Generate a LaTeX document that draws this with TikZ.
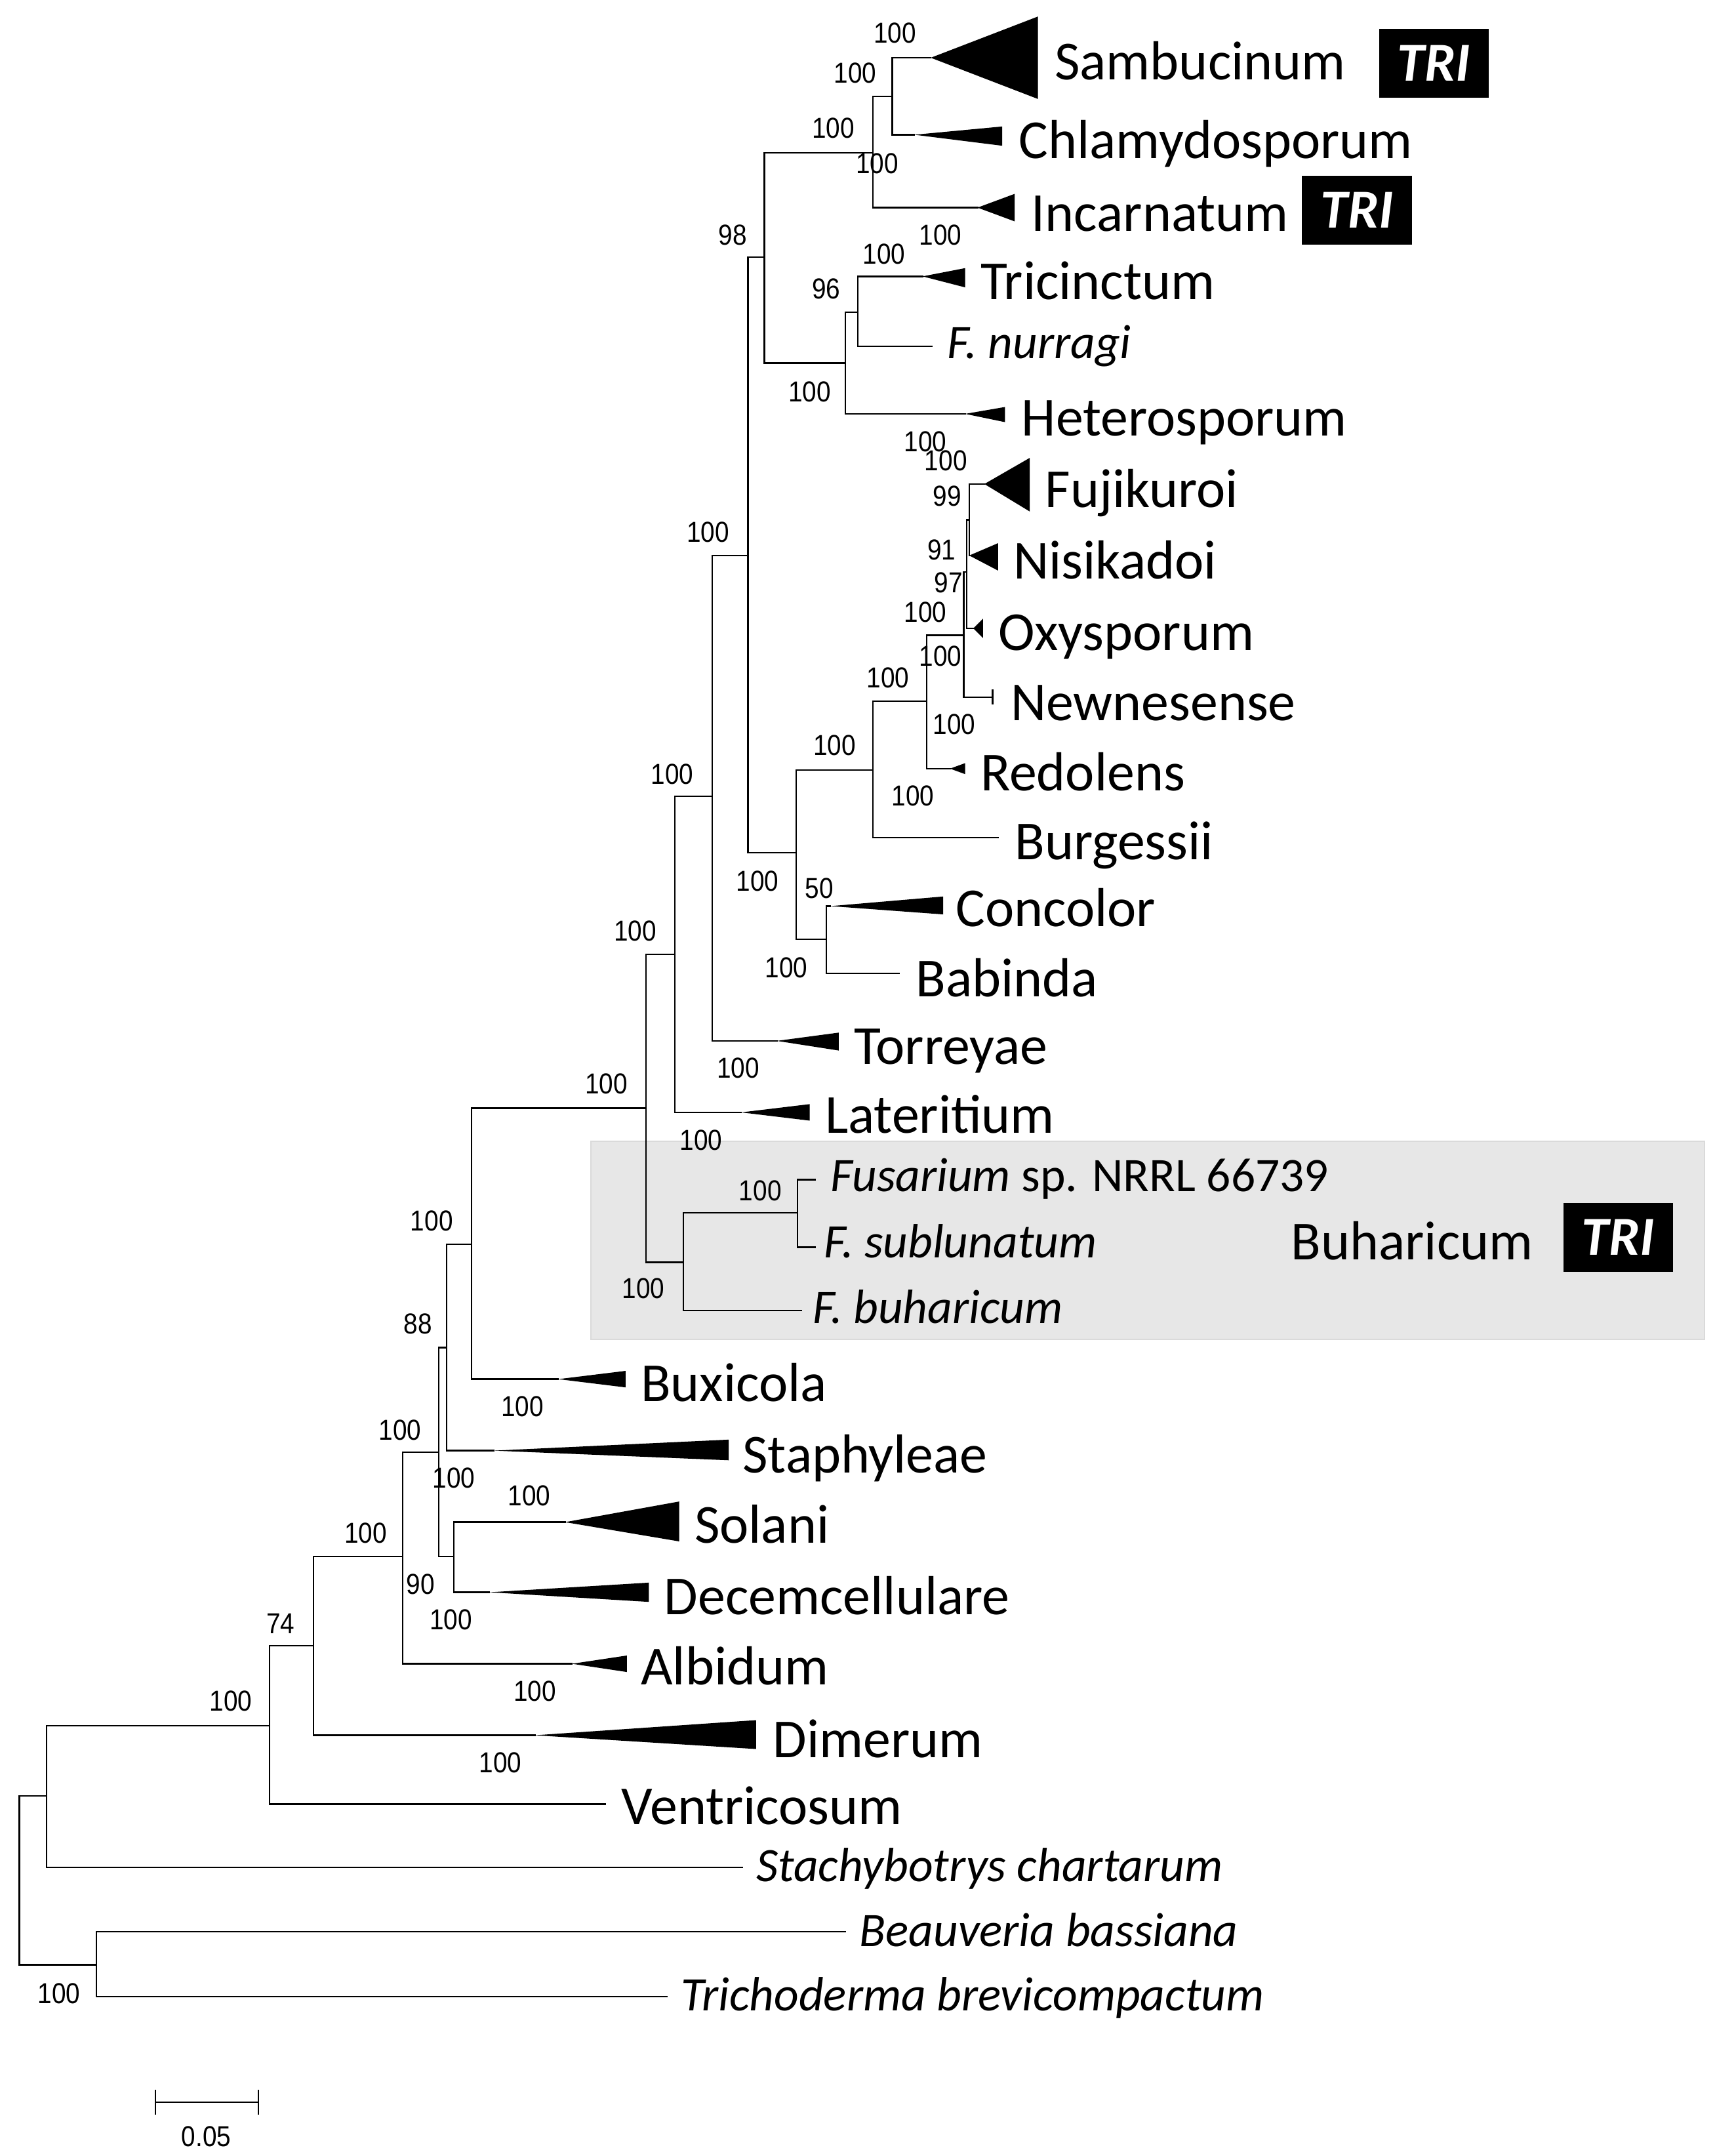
\documentclass[tikz,border=0pt]{standalone}
\usepackage{fontspec}
\setmainfont{Carlito}
\newfontfamily\bsfont[FakeStretch=0.88]{Liberation Sans}
\definecolor{boxgrey}{RGB}{231,231,231}
\definecolor{boxedge}{RGB}{218,218,218}
\begin{document}
\begin{tikzpicture}[x=1pt,y=-1pt,
  br/.style={line width=1.1pt, line cap=rect},
  bs/.style={font=\bsfont\fontsize{21}{25}\selectfont, inner sep=0pt},
  lab/.style={anchor=base west, inner sep=0pt, yshift=-13pt, font=\fontsize{40}{48}\selectfont},
  sp/.style={anchor=base west, inner sep=0pt, yshift=-11.5pt, font=\itshape\fontsize{35}{42}\selectfont},
  tribox/.style={fill=black, minimum width=80pt, minimum height=50pt, inner sep=0pt, text=white, font=\bfseries\itshape\fontsize{40}{48}\selectfont}]
\useasboundingbox (0,0) rectangle (1247,1568);
% highlighted clade box
\path[fill=boxgrey, draw=boxedge, line width=1pt] (430,830) rectangle (1240,974);
% internal nodes and tips
\coordinate (nRoot) at (14,1368);
\coordinate (nA) at (34,1306);
\coordinate (nB) at (70,1429);
\coordinate (tStac) at (540,1358);
\coordinate (tBeau) at (615,1405);
\coordinate (tTrich) at (485,1452);
\coordinate (nC) at (196,1255);
\coordinate (tVent) at (440,1312);
\coordinate (nD) at (228,1197);
\coordinate (aDime) at (389,1262);
\coordinate (nE) at (293,1132);
\coordinate (aAlbi) at (416,1210);
\coordinate (nF) at (319,1056);
\coordinate (nH) at (325,980);
\coordinate (aStap) at (359,1055);
\coordinate (nG) at (330,1132);
\coordinate (aSola) at (411,1107);
\coordinate (aDece) at (356,1158);
\coordinate (nI) at (343,905);
\coordinate (aBuxi) at (406,1003);
\coordinate (nJ) at (470,806);
\coordinate (nL) at (497,918);
\coordinate (nLL) at (580,882);
\coordinate (tFsp) at (593,858);
\coordinate (tFsub) at (593,907);
\coordinate (tFbuh) at (583,953);
\coordinate (nK) at (491,694);
\coordinate (aLate) at (539,809);
\coordinate (nM) at (518,579);
\coordinate (aTorr) at (565,757);
\coordinate (nN) at (544,404);
\coordinate (nQ) at (556,187);
\coordinate (nP) at (579,620);
\coordinate (nV) at (635,560);
\coordinate (nAA) at (601,683);
\coordinate (aConc) at (604,659);
\coordinate (tBabi) at (654,708);
\coordinate (tBurg) at (726,609);
\coordinate (nW) at (674,510);
\coordinate (aRedo) at (691,559);
\coordinate (nX) at (701,462);
\coordinate (tNewn) at (722,507);
\coordinate (nY) at (703,416);
\coordinate (aOxys) at (708,457);
\coordinate (nZ) at (705,378);
\coordinate (aFuji) at (716,352);
\coordinate (aNisi) at (705,404);
\coordinate (nR) at (635,111);
\coordinate (nT) at (615,264);
\coordinate (nS) at (649,70);
\coordinate (aSamb) at (677,42);
\coordinate (aChla) at (665,98);
\coordinate (aInca) at (711,151);
\coordinate (nU) at (624,227);
\coordinate (aHete) at (702,301);
\coordinate (aTric) at (671,201);
\coordinate (tNurr) at (678,252);
% branches
\draw[br] (nRoot) |- (nA);  \draw[br] (nRoot) |- (nB);
\draw[br] (nA) |- (nC);     \draw[br] (nA) |- (tStac);
\draw[br] (nB) |- (tBeau);  \draw[br] (nB) |- (tTrich);
\draw[br] (nC) |- (nD);     \draw[br] (nC) |- (tVent);
\draw[br] (nD) |- (nE);     \draw[br] (nD) |- (aDime);
\draw[br] (nE) |- (nF);     \draw[br] (nE) |- (aAlbi);
\draw[br] (nF) |- (nH);     \draw[br] (nF) |- (nG);
\draw[br] (nH) |- (nI);     \draw[br] (nH) |- (aStap);
\draw[br] (nG) |- (aSola);  \draw[br] (nG) |- (aDece);
\draw[br] (nI) |- (nJ);     \draw[br] (nI) |- (aBuxi);
\draw[br] (nJ) |- (nK);     \draw[br] (nJ) |- (nL);
\draw[br] (nL) |- (nLL);    \draw[br] (nL) |- (tFbuh);
\draw[br] (nLL) |- (tFsp);  \draw[br] (nLL) |- (tFsub);
\draw[br] (nK) |- (nM);     \draw[br] (nK) |- (aLate);
\draw[br] (nM) |- (nN);     \draw[br] (nM) |- (aTorr);
\draw[br] (nN) |- (nQ);     \draw[br] (nN) |- (nP);
\draw[br] (nP) |- (nV);     \draw[br] (nP) |- (nAA);
\draw[br] (nAA) |- (aConc); \draw[br] (nAA) |- (tBabi);
\draw[br] (nV) |- (nW);     \draw[br] (nV) |- (tBurg);
\draw[br] (nW) |- (nX);     \draw[br] (nW) |- (aRedo);
\draw[br] (nX) |- (nY);     \draw[br] (nX) |- (tNewn);
\draw[br] (nY) |- (nZ);     \draw[br] (nY) |- (aOxys);
\draw[br] (nZ) |- (aFuji);  \draw[br] (nZ) |- (aNisi);
\draw[br] (nQ) |- (nR);     \draw[br] (nQ) |- (nT);
\draw[br] (nR) |- (nS);     \draw[br] (nR) |- (aInca);
\draw[br] (nS) |- (aSamb);  \draw[br] (nS) |- (aChla);
\draw[br] (nT) |- (nU);     \draw[br] (nT) |- (aHete);
\draw[br] (nU) |- (aTric);  \draw[br] (nU) |- (tNurr);
% collapsed clades
\fill (aSamb) -- (755,12) -- (755,72) -- cycle;
\fill (aChla) -- (729,92) -- (729,106) -- cycle;
\fill (aInca) -- (738,141) -- (738,161) -- cycle;
\fill (aTric) -- (702,195) -- (702,209) -- cycle;
\fill (aHete) -- (731,296) -- (731,307) -- cycle;
\fill (aFuji) -- (749,333) -- (749,372) -- cycle;
\fill (aNisi) -- (726,395) -- (726,415) -- cycle;
\fill (aOxys) -- (715,450) -- (715,464) -- cycle;
\draw[br] ([yshift=5pt]tNewn) -- ([yshift=-5pt]tNewn);
\fill (aRedo) -- (702,555) -- (702,563) -- cycle;
\fill (aConc) -- (686,652) -- (686,665) -- cycle;
\fill (aTorr) -- (610,751) -- (610,764) -- cycle;
\fill (aLate) -- (589,803) -- (589,815) -- cycle;
\fill (aBuxi) -- (455,997) -- (455,1009) -- cycle;
\fill (aStap) -- (530,1047) -- (530,1062) -- cycle;
\fill (aSola) -- (494,1092) -- (494,1121) -- cycle;
\fill (aDece) -- (472,1151) -- (472,1165) -- cycle;
\fill (aAlbi) -- (456,1204) -- (456,1216) -- cycle;
\fill (aDime) -- (550,1251) -- (550,1272) -- cycle;
% bootstrap values
\foreach \x/\y/\t [count=\i] in {651/24/100, 622/53/100, 606/93/100, 638/119/100, 684/171/100,
  533/171/98, 643/185/100, 601/210/96, 589/285/100, 673/321/100, 688/335/100, 689/361/99,
  515/387/100, 685/400/91, 690/424/97, 673/445/100, 684/477/100, 646/493/100, 694/527/100,
  607/542/100, 489/563/100, 664/579/100, 551/641/100, 596/646/50, 462/677/100, 572/704/100,
  537/777/100, 441/788/100, 510/829/100, 553/866/100, 314/888/100, 468/937/100, 304/963/88,
  380/1023/100, 291/1040/100, 330/1075/100, 385/1088/100, 266/1115/100, 306/1152/90,
  328/1178/100, 204/1181/74, 389/1230/100, 168/1237/100, 364/1282/100, 43/1450/100}
  \node[bs] (b\i) at (\x,\y) {\t};
% taxon labels
\node[lab] (lSamb) at (767,45) {Sambucinum};
\node[lab] (lChla) at (741,102) {Chlamydosporum};
\node[lab] (lInca) at (750,155) {Incarnatum};
\node[lab] (lTric) at (713,205) {Tricinctum};
\node[sp] (lNurr) at (689,249) {F. nurragi};
\node[lab] (lHete) at (743,304) {Heterosporum};
\node[lab] (lFuji) at (760,356) {Fujikuroi};
\node[lab] (lNisi) at (737,408) {Nisikadoi};
\node[lab] (lOxys) at (726,460) {Oxysporum};
\node[lab] (lNewn) at (735,511) {Newnesense};
\node[lab] (lRedo) at (713,562) {Redolens};
\node[lab] (lBurg) at (738,612) {Burgessii};
\node[lab] (lConc) at (695,661) {Concolor};
\node[lab] (lBabi) at (666,712) {Babinda};
\node[lab] (lTorr) at (621,761) {Torreyae};
\node[lab] (lLate) at (600,811) {Lateritium};
\node[sp] (lFsp) at (604,855) {Fusarium\upshape{} sp. NRRL 66739};
\node[sp] (lFsub) at (599,903) {F. sublunatum};
\node[sp] (lFbuh) at (591,951) {F. buharicum};
\node[lab] (lBuha) at (939,903) {Buharicum};
\node[lab] (lBuxi) at (466,1006) {Buxicola};
\node[lab] (lStap) at (540,1058) {Staphyleae};
\node[lab] (lSola) at (505,1109) {Solani};
\node[lab] (lDece) at (483,1161) {Decemcellulare};
\node[lab] (lAlbi) at (466,1212) {Albidum};
\node[lab] (lDime) at (562,1265) {Dimerum};
\node[lab] (lVent) at (452,1314) {Ventricosum};
\node[sp] (lStac) at (550,1357) {Stachybotrys chartarum};
\node[sp] (lBeau) at (625,1404) {Beauveria bassiana};
\node[sp] (lTric2) at (495,1451) {Trichoderma brevicompactum};
% TRI boxes
\node[tribox] (triSamb) at (1043,46) {TRI};
\node[tribox] (triInca) at (987,153) {TRI};
\node[tribox] (triBuha) at (1177,900) {TRI};
% scale bar
\coordinate (sL) at (113,1529);
\coordinate (sR) at (188,1529);
\draw[br] (sL) -- (sR);
\draw[br] ([yshift=8.5pt]sL) -- ([yshift=-8.5pt]sL);
\draw[br] ([yshift=8.5pt]sR) -- ([yshift=-8.5pt]sR);
\node[bs] (sLab) at (150,1554) {0.05};
\end{tikzpicture}
\end{document}
